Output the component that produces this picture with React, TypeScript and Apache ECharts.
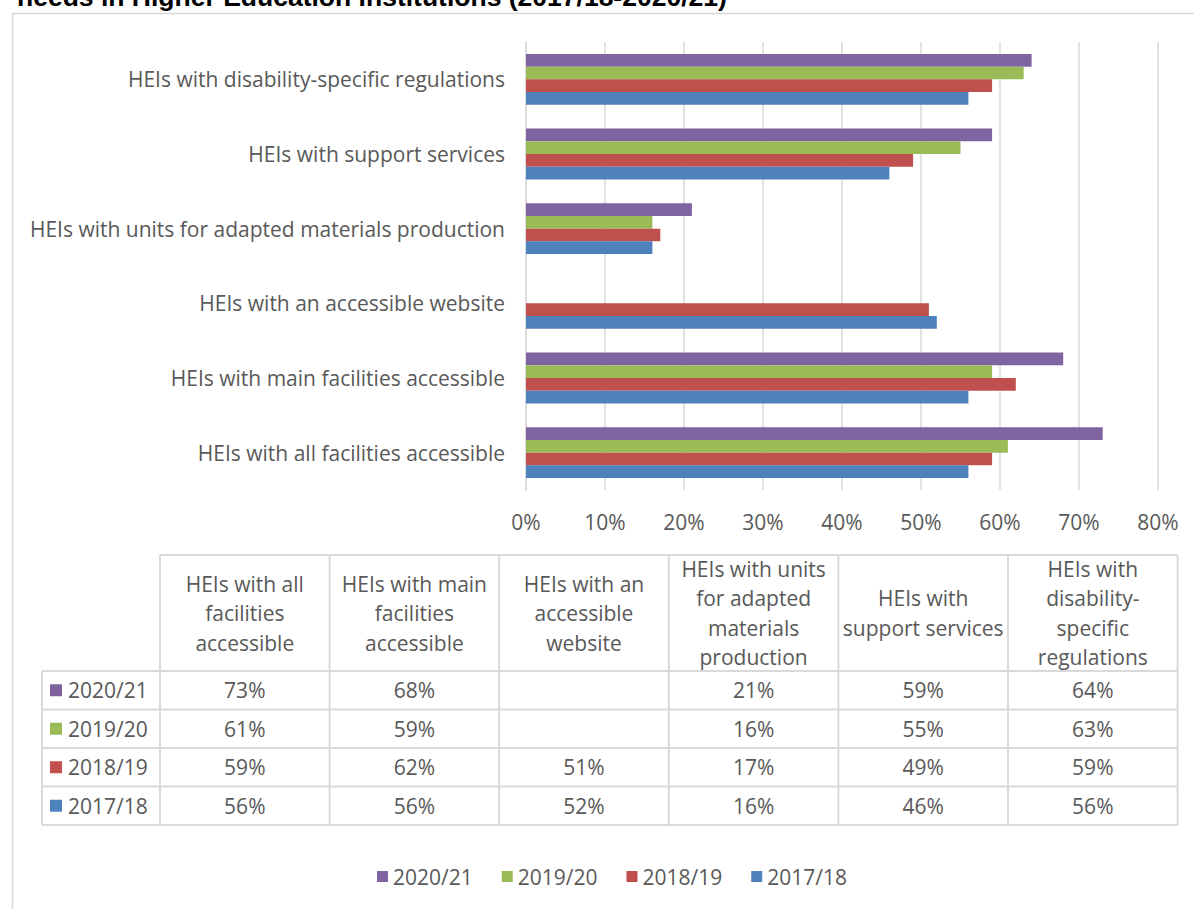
import React, { useEffect, useRef } from 'react';
import * as echarts from 'echarts';

const categories = [
  'HEIs with all facilities accessible',
  'HEIs with main facilities accessible',
  'HEIs with an accessible website',
  'HEIs with units for adapted materials production',
  'HEIs with support services',
  'HEIs with disability-specific regulations',
];
const tableHeaders = [
  'HEIs with all\nfacilities\naccessible',
  'HEIs with main\nfacilities\naccessible',
  'HEIs with an\naccessible\nwebsite',
  'HEIs with units\nfor adapted\nmaterials\nproduction',
  'HEIs with\nsupport services',
  'HEIs with\ndisability-\nspecific\nregulations',
];
const years = ['2020/21', '2019/20', '2018/19', '2017/18'];
const v2020: (number | null)[] = [73, 68, null, 21, 59, 64];
const v2019: (number | null)[] = [61, 59, null, 16, 55, 63];
const v2018: (number | null)[] = [59, 62, 51, 17, 49, 59];
const v2017: (number | null)[] = [56, 56, 52, 16, 46, 56];
const yearValues = [v2020, v2019, v2018, v2017];
const colors = ['#8064A2', '#9BBB59', '#C0504D', '#4F81BD'];
const xMax = 80;
const xInterval = 10;
const titleText = 'needs in Higher Education Institutions (2017/18-2020/21)';

const FONT = '"Open Sans", Lato, sans-serif';
const TXT = '#595959';
const LINE = '#d9d9d9';
const FS = 21;

export default function App() {
  const ref = useRef<HTMLDivElement>(null);
  useEffect(() => {
    if (!ref.current) return;
    const chart = echarts.init(ref.current, null, { renderer: 'svg' });

    const tLeft = 160;
    const colW = 169.6;
    const labelLeft = 42;
    const headTop = 555;
    const headBottom = 671;
    const rowH = 38.5;
    const tRight = tLeft + colW * tableHeaders.length;
    const tBottom = headBottom + rowH * years.length;

    const g: any[] = [];
    g.push({
      type: 'rect',
      shape: { x: 12.5, y: 13.5, width: 1400, height: 1200 },
      style: { fill: 'none', stroke: LINE, lineWidth: 1.5 },
      silent: true,
    });
    g.push({
      type: 'text',
      x: 17,
      y: -3,
      style: {
        text: titleText,
        fontFamily: '"Liberation Sans", Arial, sans-serif',
        fontWeight: 'bold',
        fontSize: 26.5,
        fill: '#000',
        align: 'left',
        verticalAlign: 'middle',
      },
    });
    g.push({ type: 'line', shape: { x1: tLeft, y1: headTop, x2: tRight, y2: headTop }, style: { stroke: LINE, lineWidth: 2 } });
    for (let r = 0; r <= years.length; r++) {
      const y = headBottom + r * rowH;
      g.push({ type: 'line', shape: { x1: labelLeft, y1: y, x2: tRight, y2: y }, style: { stroke: LINE, lineWidth: 2 } });
    }
    g.push({ type: 'line', shape: { x1: labelLeft, y1: headBottom, x2: labelLeft, y2: tBottom }, style: { stroke: LINE, lineWidth: 2 } });
    for (let c = 0; c <= tableHeaders.length; c++) {
      const x = tLeft + c * colW;
      g.push({ type: 'line', shape: { x1: x, y1: headTop, x2: x, y2: tBottom }, style: { stroke: LINE, lineWidth: 2 } });
    }
    tableHeaders.forEach((h, c) => {
      g.push({
        type: 'text',
        x: tLeft + c * colW + colW / 2,
        y: (headTop + headBottom) / 2,
        style: { text: h, fontFamily: FONT, fontSize: FS, fill: TXT, align: 'center', verticalAlign: 'middle', lineHeight: 29.5 },
      });
    });
    years.forEach((yr, r) => {
      const cy = headBottom + r * rowH + rowH / 2;
      g.push({ type: 'rect', shape: { x: 50, y: cy - 6, width: 12, height: 12 }, style: { fill: colors[r] } });
      g.push({
        type: 'text', x: 68, y: cy,
        style: { text: yr, fontFamily: FONT, fontSize: FS, fill: TXT, align: 'left', verticalAlign: 'middle' },
      });
      yearValues[r].forEach((v, c) => {
        if (v === null) return;
        g.push({
          type: 'text', x: tLeft + c * colW + colW / 2, y: cy,
          style: { text: v + '%', fontFamily: FONT, fontSize: FS, fill: TXT, align: 'center', verticalAlign: 'middle' },
        });
      });
    });

    chart.setOption({
      animation: false,
      backgroundColor: '#fff',
      textStyle: { fontFamily: FONT },
      grid: { left: 526, right: 36, top: 42, height: 448, containLabel: false },
      xAxis: {
        type: 'value', min: 0, max: xMax, interval: xInterval,
        axisLabel: { formatter: '{value}%', fontSize: FS, color: TXT, margin: 21, fontFamily: FONT },
        axisLine: { show: false }, axisTick: { show: false },
        splitLine: { show: true, lineStyle: { color: LINE, width: 1.5 } },
      },
      yAxis: {
        type: 'category', data: categories,
        axisLine: { show: true, lineStyle: { color: LINE, width: 1.5 } },
        axisTick: { show: false },
        axisLabel: { fontSize: FS, color: TXT, margin: 21, fontFamily: FONT },
      },
      legend: {
        data: years, left: 372, top: 861, itemWidth: 11, itemHeight: 11, itemGap: 29, icon: 'rect',
        textStyle: { fontSize: FS, color: TXT, fontFamily: FONT },
      },
      series: years.map((yr, i) => ({
        name: yr, type: 'bar', data: yearValues[i],
        itemStyle: { color: colors[i] },
        barGap: '0%', barCategoryGap: '32%',
      })),
      graphic: g,
    });
    return () => chart.dispose();
  }, []);
  return <div ref={ref} style={{ position: 'absolute', left: 0, top: 0, width: 1194, height: 909 }} />;
}
